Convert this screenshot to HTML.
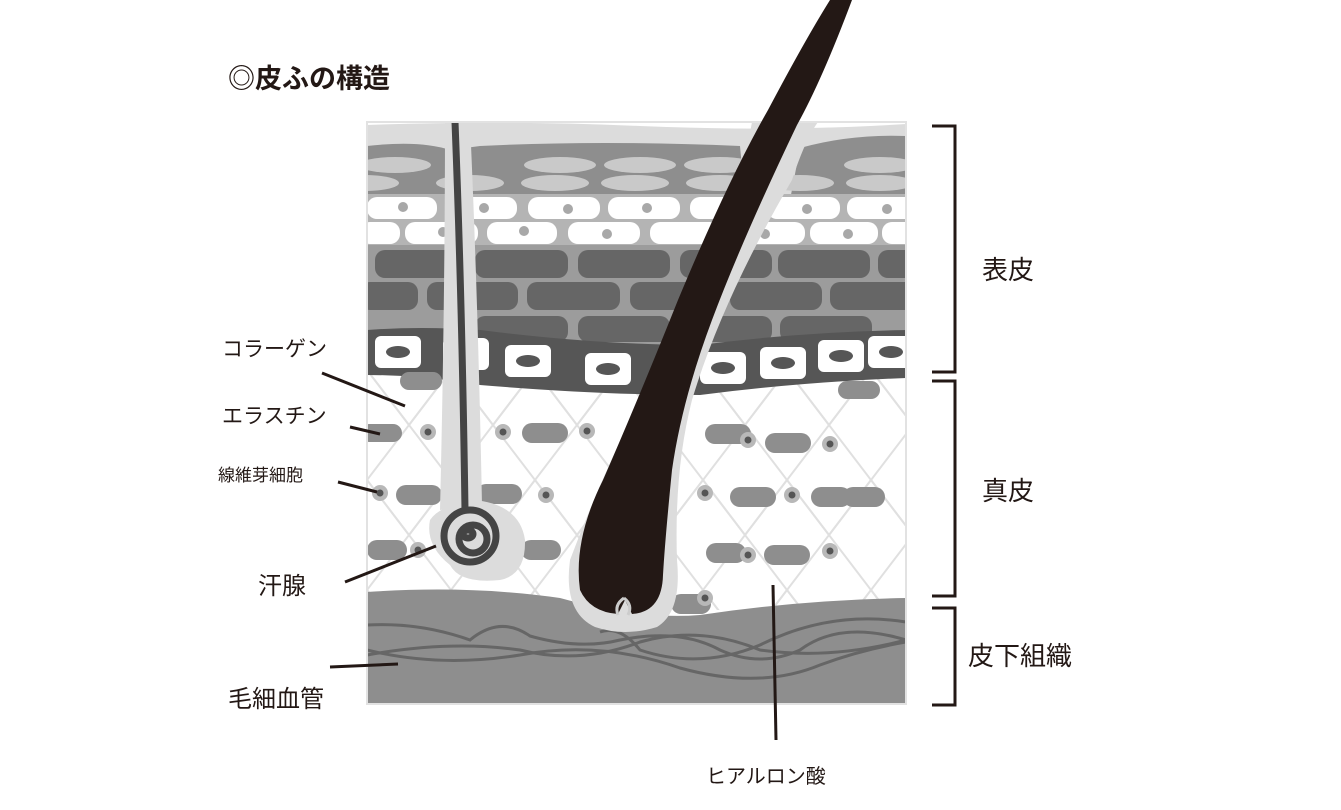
<!DOCTYPE html>
<html><head><meta charset="utf-8"><style>
body{margin:0;background:#fff;}
svg{display:block}
text{font-family:"Liberation Sans","Noto Sans CJK JP",sans-serif;fill:#231815}
</style></head><body>
<svg width="1341" height="810" viewBox="0 0 1341 810" xmlns="http://www.w3.org/2000/svg">
<defs>
<pattern id="lat" x="367" y="370" width="84" height="110" patternUnits="userSpaceOnUse">
<path d="M0 0 L84 110 M84 0 L0 110 M-42 55 L0 110 M42 -55 L126 55" stroke="#e0e0e0" stroke-width="2" fill="none"/>
<path d="M0 0 L42 55 M84 0 L42 55" stroke="#e0e0e0" stroke-width="2"/>
</pattern>
<clipPath id="box"><rect x="367" y="122" width="539" height="582"/></clipPath>
</defs>
<text x="228" y="88" font-size="27" font-weight="bold">◎皮ふの構造</text>
<g clip-path="url(#box)">
<rect x="367" y="122" width="539" height="582" fill="#fff"/>
<rect x="367" y="370" width="539" height="240" fill="url(#lat)"/>
<path d="M367 125 Q500 120 640 126 Q780 132 906 124 L906 200 L367 200Z" fill="#dcdcdc"/>
<path d="M367 146 Q420 140 450 150 L480 146 Q600 140 740 146 L745 200 L367 200Z M800 148 Q850 134 906 136 L906 200 L790 200Z" fill="#8e8e8e"/>
<g fill="#c9c9c9">
<ellipse cx="395" cy="165" rx="36" ry="8"/><ellipse cx="560" cy="165" rx="36" ry="8"/><ellipse cx="640" cy="165" rx="36" ry="8"/><ellipse cx="720" cy="165" rx="36" ry="8"/><ellipse cx="880" cy="165" rx="36" ry="8"/>
<ellipse cx="365" cy="183" rx="34" ry="8"/><ellipse cx="470" cy="183" rx="34" ry="8"/><ellipse cx="555" cy="183" rx="34" ry="8"/><ellipse cx="635" cy="183" rx="34" ry="8"/><ellipse cx="720" cy="183" rx="34" ry="8"/><ellipse cx="800" cy="183" rx="34" ry="8"/><ellipse cx="880" cy="183" rx="34" ry="8"/>
</g>
<rect x="367" y="194" width="539" height="52" fill="#b4b4b4"/>
<g fill="#fff">
<rect x="367" y="197" width="70" height="22" rx="10"/><rect x="447" y="197" width="70" height="22" rx="10"/><rect x="528" y="197" width="72" height="22" rx="10"/><rect x="608" y="197" width="72" height="22" rx="10"/><rect x="690" y="197" width="68" height="22" rx="10"/><rect x="767" y="197" width="73" height="22" rx="10"/><rect x="847" y="197" width="70" height="22" rx="10"/>
<rect x="360" y="222" width="40" height="22" rx="10"/><rect x="405" y="222" width="73" height="22" rx="10"/><rect x="487" y="222" width="70" height="22" rx="10"/><rect x="568" y="222" width="72" height="22" rx="10"/><rect x="650" y="222" width="70" height="22" rx="10"/><rect x="730" y="222" width="75" height="22" rx="10"/><rect x="810" y="222" width="68" height="22" rx="10"/><rect x="882" y="222" width="40" height="22" rx="10"/>
</g>
<g fill="#a8a8a8">
<circle cx="403" cy="207" r="5"/><circle cx="484" cy="208" r="5"/><circle cx="568" cy="209" r="5"/><circle cx="647" cy="208" r="5"/><circle cx="807" cy="209" r="5"/><circle cx="887" cy="209" r="5"/>
<circle cx="443" cy="232" r="5"/><circle cx="524" cy="231" r="5"/><circle cx="607" cy="234" r="5"/><circle cx="765" cy="234" r="5"/><circle cx="848" cy="234" r="5"/>
</g>
<path d="M367 245 L906 245 L906 330 Q800 335 720 345 L600 345 Q480 330 367 330Z" fill="#9c9c9c"/>
<g fill="#666">
<rect x="375" y="250" width="80" height="28" rx="10"/><rect x="475" y="250" width="93" height="28" rx="10"/><rect x="578" y="250" width="92" height="28" rx="10"/><rect x="680" y="250" width="92" height="28" rx="10"/><rect x="778" y="250" width="92" height="28" rx="10"/><rect x="878" y="250" width="40" height="28" rx="10"/>
<rect x="360" y="282" width="58" height="28" rx="10"/><rect x="427" y="282" width="91" height="28" rx="10"/><rect x="527" y="282" width="93" height="28" rx="10"/><rect x="630" y="282" width="92" height="28" rx="10"/><rect x="730" y="282" width="92" height="28" rx="10"/><rect x="830" y="282" width="90" height="28" rx="10"/>
<rect x="475" y="316" width="93" height="26" rx="10"/><rect x="578" y="316" width="92" height="26" rx="10"/><rect x="680" y="316" width="92" height="26" rx="10"/><rect x="780" y="316" width="92" height="26" rx="10"/>
</g>
<path d="M367 330 Q420 326 480 330 Q600 345 700 345 Q800 332 906 330 L906 378 Q800 382 700 395 Q600 395 480 385 Q420 375 367 375Z" fill="#565656"/>
<g fill="#fff">
<rect x="375" y="336" width="46" height="32" rx="6"/><rect x="443" y="338" width="46" height="32" rx="6"/><rect x="505" y="345" width="46" height="32" rx="6"/><rect x="585" y="353" width="46" height="32" rx="6"/><rect x="700" y="352" width="46" height="32" rx="6"/><rect x="760" y="347" width="46" height="32" rx="6"/><rect x="818" y="340" width="46" height="32" rx="6"/><rect x="868" y="336" width="46" height="32" rx="6"/>
</g>
<g fill="#565656">
<ellipse cx="398" cy="352" rx="12" ry="6"/><ellipse cx="466" cy="354" rx="12" ry="6"/><ellipse cx="528" cy="361" rx="12" ry="6"/><ellipse cx="608" cy="369" rx="12" ry="6"/><ellipse cx="723" cy="368" rx="12" ry="6"/><ellipse cx="783" cy="363" rx="12" ry="6"/><ellipse cx="841" cy="356" rx="12" ry="6"/><ellipse cx="891" cy="352" rx="12" ry="6"/>
</g>
<g fill="#8e8e8e">
<rect x="400" y="372" width="42" height="18" rx="9"/><rect x="838" y="381" width="42" height="18" rx="9"/>
<rect x="360" y="424" width="42" height="18" rx="9"/><rect x="522" y="423" width="46" height="20" rx="10"/><rect x="705" y="424" width="46" height="20" rx="10"/><rect x="765" y="433" width="46" height="20" rx="10"/>
<rect x="396" y="485" width="46" height="20" rx="10"/><rect x="476" y="484" width="46" height="20" rx="10"/><rect x="730" y="487" width="46" height="20" rx="10"/><rect x="811" y="487" width="40" height="20" rx="10"/><rect x="843" y="487" width="42" height="20" rx="10"/>
<rect x="367" y="540" width="40" height="20" rx="10"/><rect x="521" y="540" width="40" height="20" rx="10"/><rect x="706" y="543" width="40" height="20" rx="10"/><rect x="764" y="545" width="46" height="20" rx="10"/><rect x="671" y="594" width="40" height="20" rx="10"/>
</g>
<g fill="#b8b8b8"><circle cx="428" cy="432" r="8"/><circle cx="503" cy="432" r="8"/><circle cx="587" cy="431" r="8"/><circle cx="748" cy="440" r="8"/><circle cx="830" cy="444" r="8"/><circle cx="380" cy="493" r="8"/><circle cx="546" cy="495" r="8"/><circle cx="705" cy="493" r="8"/><circle cx="792" cy="495" r="8"/><circle cx="418" cy="550" r="8"/><circle cx="748" cy="555" r="8"/><circle cx="830" cy="551" r="8"/><circle cx="705" cy="598" r="8"/></g>
<g fill="#555"><circle cx="428" cy="432" r="3.5"/><circle cx="503" cy="432" r="3.5"/><circle cx="587" cy="431" r="3.5"/><circle cx="748" cy="440" r="3.5"/><circle cx="830" cy="444" r="3.5"/><circle cx="380" cy="493" r="3.5"/><circle cx="546" cy="495" r="3.5"/><circle cx="705" cy="493" r="3.5"/><circle cx="792" cy="495" r="3.5"/><circle cx="418" cy="550" r="3.5"/><circle cx="748" cy="555" r="3.5"/><circle cx="830" cy="551" r="3.5"/><circle cx="705" cy="598" r="3.5"/></g>
<path d="M367 592 Q470 585 560 598 Q640 620 700 615 Q800 600 906 598 L906 704 L367 704Z" fill="#8e8e8e"/>
<g fill="none" stroke="#666" stroke-width="3">
<path d="M367 625 Q420 622 470 640 Q500 615 530 636 Q580 650 620 640 Q680 628 720 650 Q760 668 800 650 Q840 620 906 640"/>
<path d="M367 655 Q450 640 520 650 Q580 665 640 642 Q700 625 760 650 Q830 660 906 640"/>
<path d="M367 650 Q440 668 520 655 Q600 640 680 668 Q760 690 820 665 Q860 650 906 642"/>
<path d="M600 632 Q620 625 640 650 Q700 670 760 645 Q830 610 906 622"/>
</g>
<path d="M445 122 L470 122 Q478 300 482 505 L440 510 Q445 300 445 122Z" fill="#dcdcdc"/>
<path d="M430 520 Q440 505 475 500 Q520 505 525 540 Q526 575 500 580 Q460 584 450 565 Q425 545 430 520Z" fill="#dcdcdc"/>
<path d="M455 122 Q462 300 465 510" stroke="#444" stroke-width="7" fill="none"/>
<g fill="none" stroke="#444" stroke-width="7">
<circle cx="470" cy="536" r="26"/><circle cx="473" cy="539" r="14"/><ellipse cx="468" cy="534" rx="5" ry="4"/>
</g>
<path d="M752 122 Q745 160 740 180 Q690 300 640 400 Q600 480 570 560 Q563 612 595 627 Q625 637 657 627 Q682 612 677 560 Q674 470 692 400 Q722 300 792 180 Q805 140 818 122Z" fill="#dcdcdc"/>
</g>
<rect x="367" y="122" width="539" height="582" fill="none" stroke="#e2e2e2" stroke-width="2"/>
<!-- hair (extends above box) -->
<path d="M830 0 L852 0 Q822 80 797 125 Q742 240 712 320 Q682 400 672 470 Q665 540 663 575 Q662 612 632 614 L625 600 L618 614 Q590 612 580 590 Q573 540 603 480 Q638 400 678 300 Q728 180 768 110 Q805 40 830 0Z" fill="#231815"/>
<path d="M624 598 Q614 605 618 615 M624 598 Q633 605 628 615" stroke="#ccc" stroke-width="3" fill="none"/>
<g fill="none" stroke="#231815" stroke-width="3">
<path d="M932 126 H955 V372 H932"/>
<path d="M932 381 H955 V596 H932"/>
<path d="M932 608 H955 V705 H932"/>
</g>
<text x="982" y="279" font-size="26">表皮</text>
<text x="982" y="500" font-size="26">真皮</text>
<text x="968" y="665" font-size="26">皮下組織</text>
<text x="222" y="356" font-size="21">コラーゲン</text>
<text x="222" y="423" font-size="21">エラスチン</text>
<text x="218" y="481" font-size="17">線維芽細胞</text>
<text x="258" y="594" font-size="24">汗腺</text>
<text x="228" y="707" font-size="24">毛細血管</text>
<text x="706" y="783" font-size="20">ヒアルロン酸</text>
<g stroke="#231815" stroke-width="3" fill="none">
<line x1="322" y1="373" x2="405" y2="406"/>
<line x1="350" y1="427" x2="380" y2="434"/>
<line x1="338" y1="482" x2="377" y2="492"/>
<line x1="345" y1="582" x2="436" y2="546"/>
<line x1="330" y1="667" x2="398" y2="664"/>
<line x1="773" y1="585" x2="776" y2="740"/>
</g>
</svg>
</body></html>
